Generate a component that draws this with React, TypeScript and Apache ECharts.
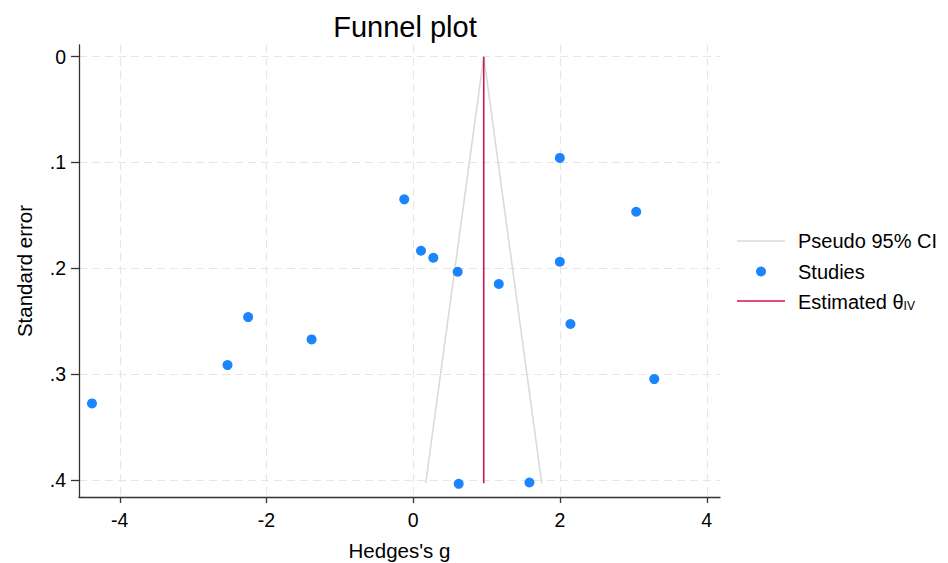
import React, { useEffect, useRef } from "react";
import * as echarts from "echarts";

const hedgesG = [-0.123, 0.105, 0.273, 0.605, 1.997, 3.038, 1.997, 1.165, -2.251, -1.386, -2.532, -4.379, 2.142, 3.284, 0.619, 1.583];
const standardError = [0.1348, 0.1834, 0.19, 0.2032, 0.0957, 0.1465, 0.1938, 0.2148, 0.246, 0.2671, 0.2914, 0.3276, 0.2526, 0.3046, 0.4036, 0.4023];

const ciX = [0.169, 0.96, 1.751];
const ciY = [0.403, 0, 0.403];
const thetaX = [0.96, 0.96];
const thetaY = [0, 0.403];

const xTicks = [-4, -2, 0, 2, 4];
const yTicks = [0, 0.1, 0.2, 0.3, 0.4];
const yTickLabels = ["0", ".1", ".2", ".3", ".4"];

const FONT = "'Liberation Sans', Arial, sans-serif";
const LINE_ICON = "path://M0,0 H48 V1.6 H0 Z";

export default function App() {
  const ref = useRef<HTMLDivElement>(null);
  useEffect(() => {
    if (!ref.current) return;
    const chart = echarts.init(ref.current, null, { renderer: "svg" });
    const splitLine = {
      show: true,
      lineStyle: { color: "#e6e6e6", width: 1.2, type: [8, 5] as any },
    };
    const axisLine = { show: true, onZero: false, lineStyle: { color: "#333", width: 1.3 } };
    chart.setOption({
      animation: false,
      backgroundColor: "#fff",
      textStyle: { fontFamily: FONT },
      title: {
        text: "Funnel plot",
        left: 400,
        top: 7,
        textAlign: "center",
        textStyle: { fontFamily: FONT, fontSize: 29, fontWeight: "normal", color: "#000" },
      },
      grid: { left: 79, right: 228, top: 45, bottom: 66, containLabel: false, outerBoundsMode: "none" },
      legend: {
        orient: "vertical",
        left: 737,
        top: 231,
        padding: 0,
        itemWidth: 48,
        itemHeight: 10,
        itemGap: 10.5,
        data: [
          { name: "Pseudo 95% CI", icon: LINE_ICON, itemStyle: { color: "#dadada" } },
          { name: "Studies", icon: "circle" },
          { name: "Estimated θIV", icon: LINE_ICON, itemStyle: { color: "#D41159" } },
        ],
        formatter: (n: string) => (n === "Estimated θIV" ? "{m|Estimated θ}{s|IV}" : n),
        textStyle: {
          fontFamily: FONT,
          fontSize: 20,
          color: "#000",
          padding: [0, 0, 0, 8],
          rich: {
            m: { fontFamily: FONT, fontSize: 20, color: "#000", lineHeight: 22, verticalAlign: "bottom" },
            s: { fontFamily: FONT, fontSize: 12, color: "#000", lineHeight: 12, verticalAlign: "bottom" },
          },
        },
      },
      xAxis: {
        type: "value",
        min: -4.556,
        max: 4.18,
        name: "Hedges's g",
        nameLocation: "middle",
        nameGap: 43,
        nameTextStyle: { fontFamily: FONT, fontSize: 20.5, color: "#000" },
        axisLine,
        axisTick: { show: true, length: 6, customValues: xTicks, lineStyle: { color: "#333", width: 1.3 } },
        axisLabel: { customValues: xTicks, margin: 13, fontFamily: FONT, fontSize: 19.5, color: "#000" },
        splitLine,
      },
      yAxis: {
        type: "value",
        inverse: true,
        min: -0.011,
        max: 0.416,
        name: "Standard error",
        nameLocation: "middle",
        nameGap: 44,
        nameTextStyle: { fontFamily: FONT, fontSize: 20.5, color: "#000" },
        axisLine,
        axisTick: { show: true, length: 8, customValues: yTicks, lineStyle: { color: "#333", width: 1.3 } },
        axisLabel: {
          customValues: yTicks,
          margin: 13,
          fontFamily: FONT,
          fontSize: 19.5,
          color: "#000",
          formatter: (v: number) => {
            const i = yTicks.findIndex((t) => Math.abs(t - v) < 1e-9);
            return i >= 0 ? yTickLabels[i] : "";
          },
        },
        splitLine,
      },
      series: [
        {
          name: "Pseudo 95% CI",
          type: "line",
          symbol: "none",
          data: ciX.map((x, i) => [x, ciY[i]]),
          lineStyle: { color: "#dadada", width: 1.6 },
          itemStyle: { color: "#dadada" },
          z: 1,
        },
        {
          name: "Studies",
          type: "scatter",
          symbolSize: 10,
          data: hedgesG.map((x, i) => [x, standardError[i]]),
          itemStyle: { color: "#1A85FF", opacity: 1 },
          z: 3,
        },
        {
          name: "Estimated θIV",
          type: "line",
          symbol: "none",
          data: thetaX.map((x, i) => [x, thetaY[i]]),
          lineStyle: { color: "#D41159", width: 1.6 },
          itemStyle: { color: "#D41159" },
          z: 2,
        },
      ],
    });
    return () => chart.dispose();
  }, []);
  return <div ref={ref} style={{ position: "fixed", left: 0, top: 0, width: 948, height: 563 }} />;
}
